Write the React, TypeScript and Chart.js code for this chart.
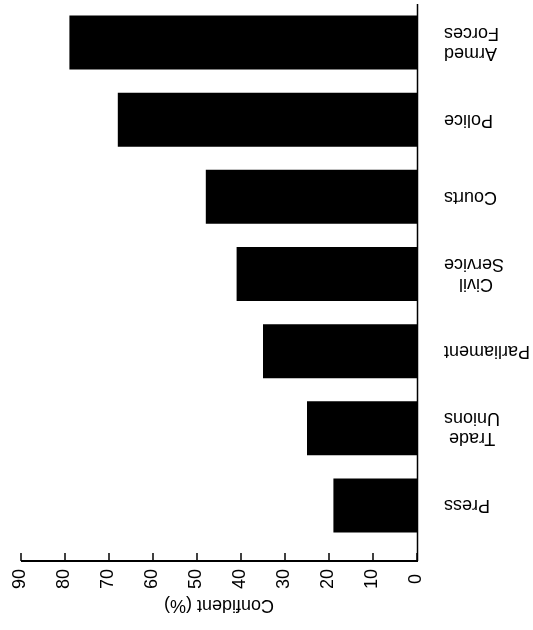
import React, { useEffect, useRef } from "react";
import { Chart, registerables } from "chart.js";

Chart.register(...registerables);

// Categories (top to bottom in the printed, un-rotated chart)
const CATEGORIES: string[][] = [
  ["Press"],
  ["Trade", "Unions"],
  ["Parliament"],
  ["Civil", "Service"],
  ["Courts"],
  ["Police"],
  ["Armed", "Forces"],
];

// Percentage confident
const CONFIDENT: number[] = [19, 25, 35, 41, 48, 68, 79];

// Value-axis ticks
const X_TICKS: number[] = [0, 10, 20, 30, 40, 50, 60, 70, 80, 90];
const X_MIN = 0;
const X_MAX = 90;
const AXIS_TITLE = "Confident (%)";

const FONT_FAMILY = "'Liberation Sans', Arial, Helvetica, sans-serif";
const FONT_SIZE = 18;
const AXIS_GAP = 17;

function centerLines(lines: string[]): string[] {
  const c = document.createElement("canvas").getContext("2d");
  if (!c || lines.length < 2) return lines;
  c.font = `${FONT_SIZE}px ${FONT_FAMILY}`;
  const widths = lines.map((l) => c.measureText(l).width);
  const maxW = Math.max(...widths);
  const spaceW = c.measureText(" ").width || 5;
  return lines.map((l, i) => l + " ".repeat(Math.max(0, Math.round((maxW - widths[i]) / 2 / spaceW))));
}

const scanAxesPlugin = {
  id: "scanAxes",
  afterDraw(chart: any) {
    const { ctx, chartArea, scales } = chart;
    const xs = scales.x;
    const axisY = chartArea.top - AXIS_GAP;
    const x0 = xs.getPixelForValue(X_MIN);
    const x90 = xs.getPixelForValue(X_MAX);
    ctx.save();
    ctx.strokeStyle = "#000";
    ctx.lineCap = "butt";
    // vertical baseline at zero
    ctx.lineWidth = 1.5;
    ctx.beginPath();
    ctx.moveTo(x0 - 0.5, axisY);
    ctx.lineTo(x0 - 0.5, chartArea.bottom);
    ctx.stroke();
    // value axis line
    ctx.lineWidth = 2;
    ctx.beginPath();
    ctx.moveTo(x90, axisY);
    ctx.lineTo(x0 - 1, axisY);
    ctx.stroke();
    // inward tick marks
    ctx.lineWidth = 1.5;
    for (const t of X_TICKS) {
      const px = xs.getPixelForValue(t);
      ctx.beginPath();
      ctx.moveTo(px, axisY);
      ctx.lineTo(px, axisY + 8);
      ctx.stroke();
    }
    // tick labels, turned a quarter clockwise
    ctx.fillStyle = "#000";
    ctx.font = `${FONT_SIZE}px ${FONT_FAMILY}`;
    ctx.textAlign = "center";
    ctx.textBaseline = "middle";
    for (const t of X_TICKS) {
      const px = xs.getPixelForValue(t);
      ctx.save();
      ctx.translate(px + 1, axisY - 18);
      ctx.rotate(Math.PI / 2);
      ctx.fillText(String(t), 0, 0);
      ctx.restore();
    }
    ctx.restore();
  },
};

export default function App() {
  const canvasRef = useRef<HTMLCanvasElement | null>(null);

  useEffect(() => {
    if (!canvasRef.current) return;
    const labels = CATEGORIES.map((c) => c.join(" "));
    const chart = new Chart(canvasRef.current, {
      type: "bar",
      data: {
        labels,
        datasets: [
          {
            data: CONFIDENT,
            backgroundColor: "#000",
            borderWidth: 0,
            barPercentage: 0.7,
            categoryPercentage: 1,
          },
        ],
      },
      options: {
        indexAxis: "y",
        animation: false,
        responsive: false,
        devicePixelRatio: 1,
        layout: { padding: { left: 0, right: 21, top: 0, bottom: 4 } },
        plugins: { legend: { display: false }, tooltip: { enabled: false } },
        scales: {
          x: {
            type: "linear",
            position: "top",
            min: X_MIN,
            max: X_MAX,
            grid: { display: false },
            border: { display: false },
            ticks: { display: false, stepSize: 10 },
            title: {
              display: true,
              text: AXIS_TITLE,
              color: "#000",
              font: { family: FONT_FAMILY, size: FONT_SIZE },
              padding: { top: 14, bottom: 4 },
            },
            afterFit: (s: any) => {
              s.height = 86;
              s.paddingLeft = 0;
              s.paddingRight = 0;
            },
          },
          y: {
            type: "category",
            grid: { display: false },
            border: { display: false },
            ticks: {
              color: "#000",
              crossAlign: "near",
              padding: 19,
              font: { family: FONT_FAMILY, size: FONT_SIZE, lineHeight: 1.12 },
              callback: (_v: any, i: number) => centerLines(CATEGORIES[i]),
            },
            afterFit: (s: any) => {
              s.width = 116;
              s.paddingTop = 0;
              s.paddingBottom = 0;
            },
          },
        },
      },
      plugins: [scanAxesPlugin],
    });
    return () => chart.destroy();
  }, []);

  return (
    <div
      style={{
        position: "fixed",
        left: 0,
        top: 0,
        width: 533,
        height: 630,
        background: "#fff",
        transform: "rotate(180deg)",
      }}
    >
      <canvas ref={canvasRef} width={533} height={630} style={{ display: "block" }} />
    </div>
  );
}
